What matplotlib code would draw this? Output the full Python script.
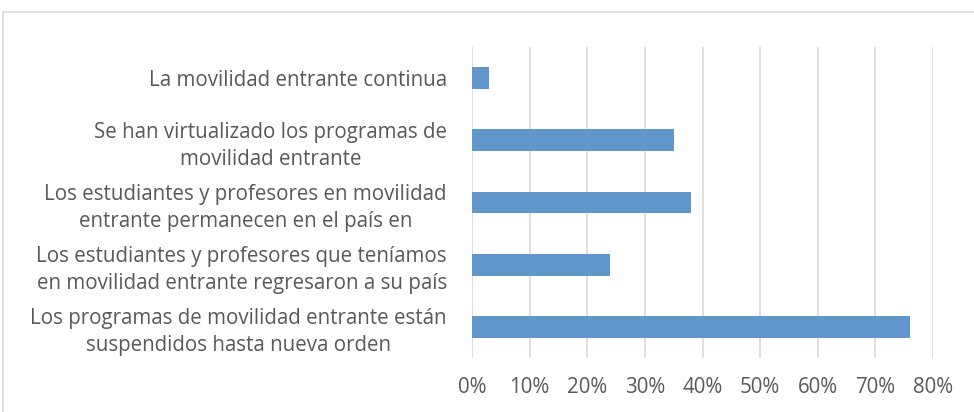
import matplotlib.pyplot as plt
from matplotlib.patches import Rectangle
from matplotlib.ticker import FuncFormatter

categories = [
    "La movilidad entrante continua",
    "Se han virtualizado los programas de\nmovilidad entrante",
    "Los estudiantes y profesores en movilidad\nentrante permanecen en el país en",
    "Los estudiantes y profesores que teníamos\nen movilidad entrante regresaron a su país",
    "Los programas de movilidad entrante están\nsuspendidos hasta nueva orden",
]
values = [0.03, 0.35, 0.38, 0.24, 0.76]
x_ticks = [0.0, 0.1, 0.2, 0.3, 0.4, 0.5, 0.6, 0.7, 0.8]

plt.rcParams["font.family"] = ["Open Sans", "DejaVu Sans"]

fig = plt.figure(figsize=(9.74, 4.12), dpi=100)
ax = fig.add_axes([472 / 974, 1 - 358 / 412, (933 - 472) / 974, (358 - 47) / 412])

# outer chart frame
fig.patches.append(Rectangle((3 / 974, -0.2), 1.2, 1.2 - 12 / 412,
                             transform=fig.transFigure, fill=False,
                             edgecolor="#d9d9d9", linewidth=1.2))

y = range(len(categories))
ax.barh(y, values, height=0.35, color="#6196cb", zorder=2)
ax.set_ylim(len(categories) - 0.5, -0.5)
ax.set_xlim(0, 0.8)
ax.set_xticks(x_ticks)
ax.xaxis.set_major_formatter(FuncFormatter(lambda v, _: f"{v * 100:.0f}%"))
ax.set_yticks(list(y))
ax.set_yticklabels(categories, multialignment="center", linespacing=1.36)
ax.grid(axis="x", color="#d9d9d9", linewidth=1.2, zorder=0)
for s in ax.spines.values():
    s.set_visible(False)
ax.tick_params(axis="both", length=0, labelsize=14.8, colors="#595959")
ax.tick_params(axis="x", pad=14)
ax.tick_params(axis="y", pad=18)

fig.savefig("out.png", dpi=100)
